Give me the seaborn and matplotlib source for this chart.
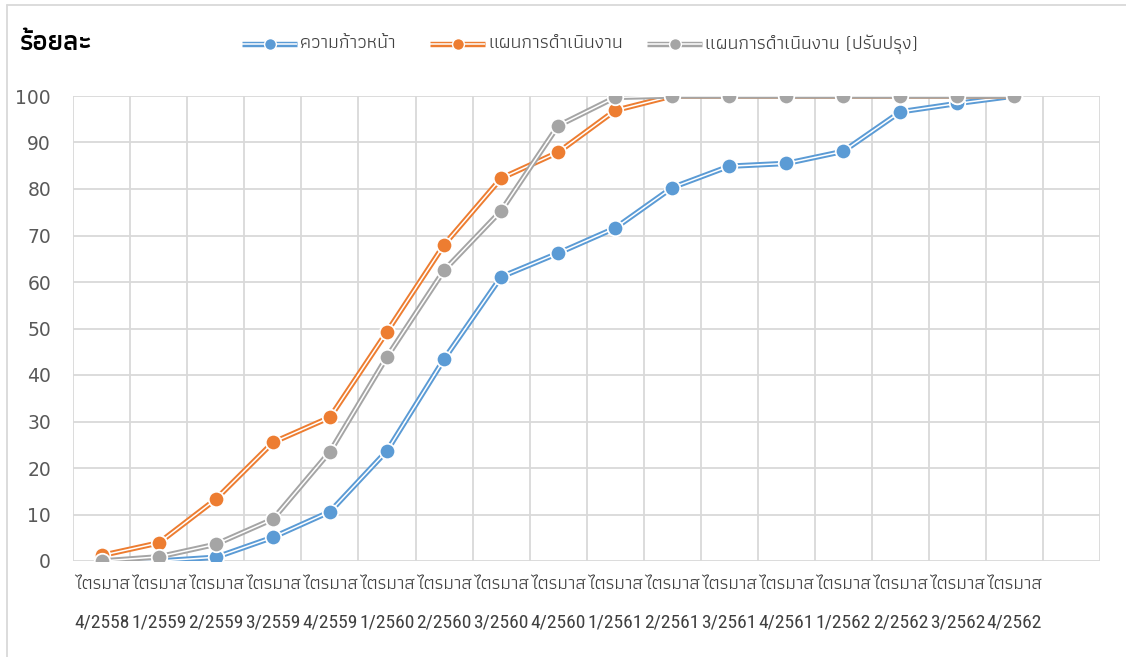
import matplotlib
matplotlib.use("Agg")
import matplotlib.pyplot as plt
import seaborn as sns
import pandas as pd
import numpy as np
from matplotlib import font_manager as fm
from matplotlib.lines import Line2D

# ---------------- data ----------------
quarters = ["4/2558", "1/2559", "2/2559", "3/2559", "4/2559", "1/2560", "2/2560",
            "3/2560", "4/2560", "1/2561", "2/2561", "3/2561", "4/2561", "1/2562",
            "2/2562", "3/2562", "4/2562"]
tick_prefix = "ไตรมาส"
series_names = ["ความก้าวหน้า", "แผนการดำเนินงาน", "แผนการดำเนินงาน (ปรับปรุง)"]
progress = [0, 0, 0.8, 5.1, 10.6, 23.7, 43.4, 61.1, 66.2, 71.6, 80.3, 84.9, 85.5, 88.1, 96.6, 98.4, 100]
plan = [1.2, 3.9, 13.3, 25.5, 30.9, 49.3, 68.0, 82.3, 87.9, 96.9, 100, 100, 100, 100, 100, 100, 100]
revised = [0, 0.9, 3.6, 9.0, 23.5, 43.9, 62.5, 75.3, 93.6, 99.7, 100, 100, 100, 100, 100, 100, 100]
y_label = "ร้อยละ"
colors = ["#5B9BD5", "#ED7D31", "#A5A5A5"]

# ---------------- fonts ----------------
sns.set_theme(style="white")
installed = {f.name for f in fm.fontManager.ttflist}


def pick(cands, default="DejaVu Sans"):
    for c in cands:
        if c in installed:
            return c
    return default


thai_font = pick(["Athiti", "Kanit", "Noto Sans Thai", "Sarabun", "Loma"])
narrow_font = pick(["Roboto Condensed", "Arial Narrow", "Liberation Sans Narrow", "Archivo Narrow",
                    "PT Sans Narrow", "Barlow Semi Condensed"], default=thai_font)
thai_family = [thai_font, "DejaVu Sans"]
xlab_family = [narrow_font, thai_font, "DejaVu Sans"]
plt.rcParams["font.family"] = thai_family

# ---------------- data frame ----------------
x = np.arange(len(quarters))
df = pd.DataFrame({
    "x": np.concatenate([x, x, x]),
    "value": progress + plan + revised,
    "series": np.repeat(series_names, len(quarters)),
})

W, H = 1126, 657
fig = plt.figure(figsize=(W / 100, H / 100), dpi=100)
ax = fig.add_axes([73.3 / W, 1 - 561 / H, (1100 - 73.3) / W, (561 - 96) / H])

LW_OUT, LW_IN = 3.9, 1.1
for i, (name, col) in enumerate(zip(series_names, colors)):
    sub = df[df["series"] == name]
    z = 3 + i * 3
    sns.lineplot(data=sub, x="x", y="value", color=col, linewidth=LW_OUT, ax=ax,
                 zorder=z, legend=False)
    sns.lineplot(data=sub, x="x", y="value", color="white", linewidth=LW_IN, ax=ax,
                 zorder=z + 0.5, legend=False)
    sns.scatterplot(data=sub, x="x", y="value", color=col, s=125, edgecolor="white",
                    linewidth=1.3, ax=ax, zorder=z + 1, legend=False)

ax.set_xlim(-0.5, len(quarters) + 0.5)
ax.set_ylim(0, 100)
ax.set_yticks(np.arange(0, 101, 10))
ax.set_yticklabels([str(v) for v in range(0, 101, 10)], fontsize=13.5,
                   color="#595959", family=["DejaVu Sans"])
ax.set_xticks(np.arange(-0.5, len(quarters) + 1, 1), minor=False)
ax.set_xticklabels([])
ax.set_xticks(x, minor=True)
ax.set_xticklabels([tick_prefix] * len(quarters), minor=True,
                   fontsize=13.8, color="#404040", family=xlab_family)
# second line of each category label (quarter/year)
for xi, q in zip(x, quarters):
    ax.annotate(q, xy=(xi, 0), xycoords=("data", "axes fraction"),
                xytext=(0, -44), textcoords="offset points", ha="center", va="center",
                fontsize=14, color="#404040", family=xlab_family, annotation_clip=False)
ax.tick_params(axis="x", which="both", length=0, pad=10)
ax.tick_params(axis="y", length=0, pad=16)
ax.grid(True, which="major", color="#D9D9D9", linewidth=1.3)
ax.set_axisbelow(True)
for s in ax.spines.values():
    s.set_visible(False)
ax.set_xlabel("")
ax.set_ylabel("")

# title
fig.text(20 / W, 1 - 43 / H, y_label, fontsize=20, fontweight="semibold",
         color="#000000", va="center", ha="left", family=thai_family)

# legend (drawn manually: double line + marker, then label)
leg_y = 1 - 44 / H
leg_x = [242, 430, 647]
for lx, name, col in zip(leg_x, series_names, colors):
    xs = [lx / W, (lx + 55) / W]
    fig.add_artist(Line2D(xs, [leg_y, leg_y], transform=fig.transFigure, color=col,
                          linewidth=LW_OUT, solid_capstyle="butt"))
    fig.add_artist(Line2D(xs, [leg_y, leg_y], transform=fig.transFigure, color="white",
                          linewidth=LW_IN, solid_capstyle="butt"))
    fig.add_artist(Line2D([(lx + 27.5) / W], [leg_y], transform=fig.transFigure, color=col,
                          marker="o", markersize=8.5, markeredgecolor="white",
                          markeredgewidth=1.0, linestyle="none"))
    fig.text((lx + 58) / W, leg_y, name, fontsize=14, color="#404040", va="center",
             ha="left", family=thai_family)

# chart-area border (left and top visible)
fig.add_artist(Line2D([7 / W, 7 / W], [0, 1 - 5 / H], transform=fig.transFigure,
                      color="#D9D9D9", linewidth=1.3))
fig.add_artist(Line2D([7 / W, 1], [1 - 5 / H, 1 - 5 / H], transform=fig.transFigure,
                      color="#D9D9D9", linewidth=1.3))

fig.savefig("out.png", dpi=100, facecolor="white")
